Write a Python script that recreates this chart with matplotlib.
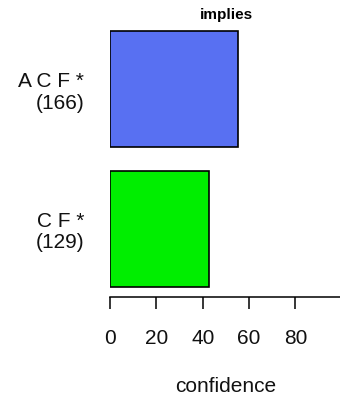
import matplotlib
matplotlib.use('Agg')
import matplotlib.pyplot as plt

plt.rcParams['font.family'] = ['Liberation Sans', 'DejaVu Sans']

# data: rules (bottom to top), counts and confidence
rules = ['C F *', 'A C F *']
counts = [129, 166]
confidence = [42.8, 55.3]
bar_colors = ['#00EE00', '#5870F2']
xticks = [0, 20, 40, 60, 80, 100]
xticklabels = ['0', '20', '40', '60', '80', '']

W, H = 340, 401
fig = plt.figure(figsize=(W / 100, H / 100), dpi=100)
# plot region in pixels: x 110..341.8, y 21..297
ax = fig.add_axes([110 / W, (H - 297) / H, 231.8 / W, 276 / H])

ypos = [0.7, 1.9]
ax.barh(ypos, confidence, height=1.0, color=bar_colors,
        edgecolor='black', linewidth=1.2)

ax.set_xlim(0, 100)
ax.set_ylim(0.112, 2.488)

for s in ['top', 'right', 'left']:
    ax.spines[s].set_visible(False)
ax.spines['bottom'].set_linewidth(1.1)

ax.set_xticks(xticks)
ax.set_xticklabels(xticklabels, fontsize=15, color='#111111')
ax.tick_params(axis='x', length=8.6, width=1.1, pad=14.5)

ax.set_yticks(ypos)
ax.set_yticklabels([f'{r}\n({c})' for r, c in zip(rules, counts)],
                   fontsize=15, linespacing=1.15, color='#111111')
ax.tick_params(axis='y', length=0, pad=18.5)

fig.text(226 / W, 1 - 387 / H, 'confidence', ha='center', va='center',
         fontsize=15, color='#111111')
fig.text(226 / W, 1 - 15 / H, 'implies', ha='center', va='center',
         fontsize=11, fontweight='bold')

fig.savefig('out.png', dpi=100)
